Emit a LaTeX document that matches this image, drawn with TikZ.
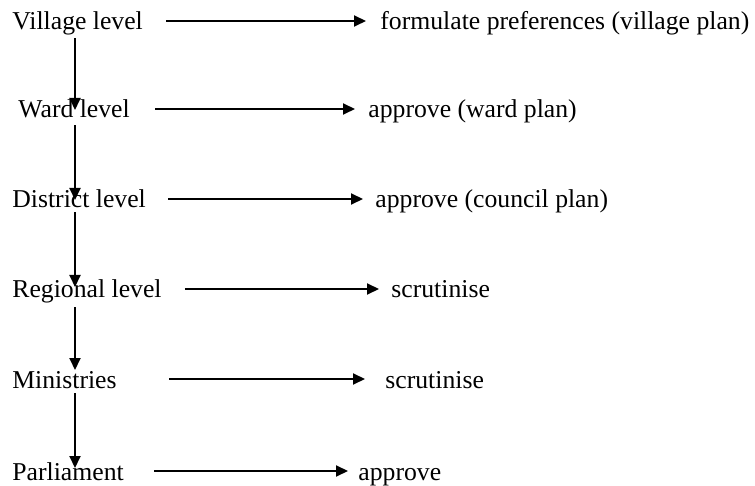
\documentclass[tikz,border=0pt]{standalone}
\usepackage{fontspec}
\setmainfont{Liberation Serif}
\usetikzlibrary{arrows.meta}

\tikzset{
	level/.style={anchor=base west, inner sep=0pt, text height=12pt, text depth=3pt, font=\fontsize{12.85}{15}\selectfont},
	flow/.style={-{Triangle[length=6pt,width=5.5pt]}, line width=1pt},
}

\begin{document}
\begin{tikzpicture}[x=0.5pt,y=-0.5pt]
	\useasboundingbox (0,0) rectangle (755,486);
	\coordinate (spine) at (75,0);
	% levels
	\node[level] (village) at (12,30) {Village level};
	\node[level] (ward) at (18,118) {Ward level};
	\node[level] (district) at (12,208) {District level};
	\node[level] (regional) at (12,298) {Regional level};
	\node[level] (ministries) at (12,388) {Ministries};
	\node[level] (parliament) at (12,480) {Parliament};
	% tasks
	\node[level] (villagetask) at (380,30) {formulate preferences (village plan)};
	\node[level] (wardtask) at (368,118) {approve (ward plan)};
	\node[level] (districttask) at (375,208) {approve (council plan)};
	\node[level] (regionaltask) at (391,298) {scrutinise};
	\node[level] (ministriestask) at (385,388) {scrutinise};
	\node[level] (parliamenttask) at (358,480) {approve};
	\foreach \from/\to/\a/\b in {village/villagetask/11.5/7, ward/wardtask/12.5/6.5, district/districttask/11/6,
		regional/regionaltask/11.5/6, ministries/ministriestask/26/10, parliament/parliamenttask/15/5}
		\draw[flow, shorten <=\a pt, shorten >=\b pt] (\from.east) -- (\to.west);
	\foreach \from/\to/\a/\b in {village/ward/1/4, ward/district/0.5/4, district/regional/-1/5.5,
		regional/ministries/1.5/9, ministries/parliament/-0.5/6}
		\draw[flow, shorten <=\a pt, shorten >=\b pt] (\from.south -| spine) -- (\to.base -| spine);
\end{tikzpicture}
\end{document}
